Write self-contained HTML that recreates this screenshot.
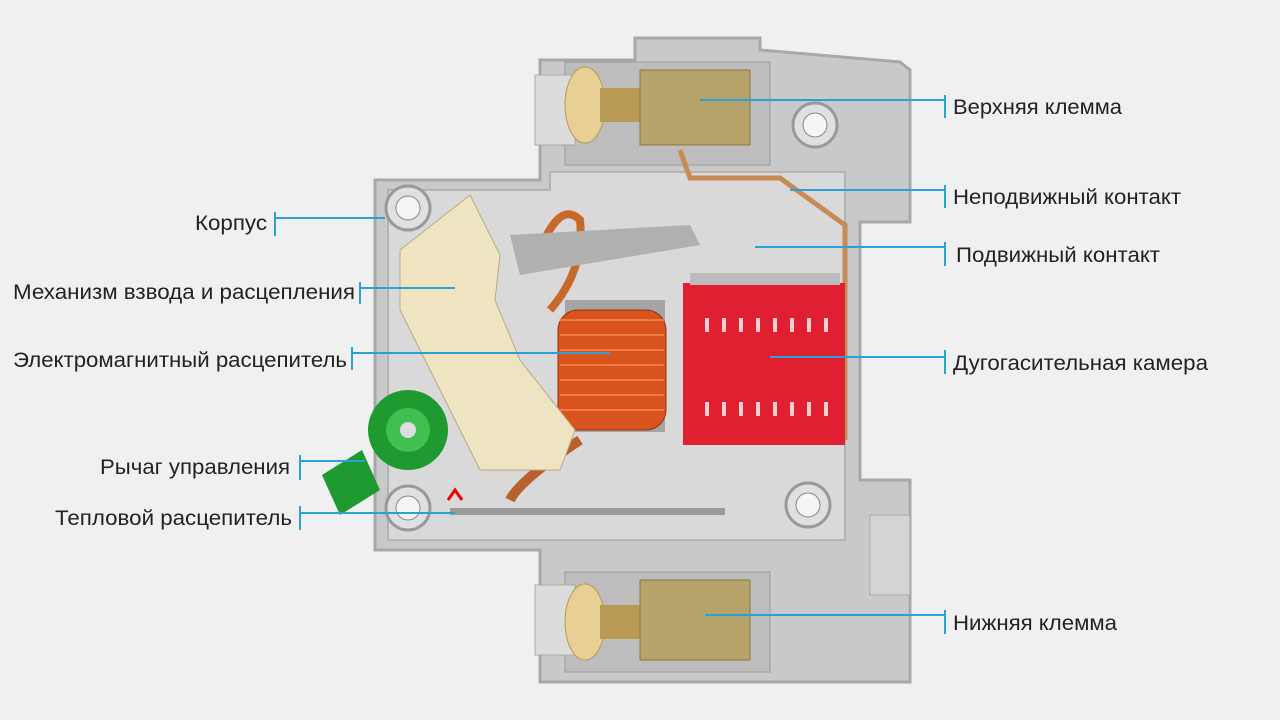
<!DOCTYPE html>
<html><head><meta charset="utf-8"><style>
html,body{margin:0;padding:0;background:#f0f0f0;}
svg{display:block}
text{font-family:"Liberation Sans",sans-serif;font-size:21px;fill:#222;}
</style></head><body>
<svg width="1280" height="720" viewBox="0 0 1280 720">
<rect width="1280" height="720" fill="#f0f0f0"/>
<path d="M540,60 L635,60 L635,38 L760,38 L760,50 L900,62 L910,70 L910,222 L860,222 L860,480 L910,480 L910,682 L760,682 L635,682 L540,682 L540,550 L375,550 L375,180 L540,180 Z" fill="#c9c9c9" stroke="#a8a8a8" stroke-width="3"/>
<path d="M388,190 L550,190 L550,172 L845,172 L845,540 L388,540 Z" fill="#d9d9d9" stroke="#b3b3b3" stroke-width="2"/>
<rect x="565" y="62" width="205" height="103" fill="#bdbdbd" stroke="#9a9a9a"/>
<rect x="565" y="572" width="205" height="100" fill="#bdbdbd" stroke="#9a9a9a"/>
<rect x="535" y="75" width="40" height="70" fill="#dcdcdc" stroke="#aaa"/>
<rect x="535" y="585" width="40" height="70" fill="#dcdcdc" stroke="#aaa"/>
<rect x="870" y="515" width="40" height="80" fill="#d4d4d4" stroke="#aaa"/>
<ellipse cx="585" cy="105" rx="20" ry="38" fill="#e8cf94" stroke="#b89a55"/>
<rect x="600" y="88" width="45" height="34" fill="#b89a55"/>
<rect x="640" y="70" width="110" height="75" fill="#b6a26b" stroke="#8a7840"/>
<ellipse cx="585" cy="622" rx="20" ry="38" fill="#e8cf94" stroke="#b89a55"/>
<rect x="600" y="605" width="45" height="34" fill="#b89a55"/>
<rect x="640" y="580" width="110" height="80" fill="#b6a26b" stroke="#8a7840"/>
<circle cx="815" cy="125" r="22" fill="#e0e0e0" stroke="#999" stroke-width="3"/><circle cx="815" cy="125" r="12" fill="#f5f5f5" stroke="#888"/>
<circle cx="808" cy="505" r="22" fill="#e0e0e0" stroke="#999" stroke-width="3"/><circle cx="808" cy="505" r="12" fill="#f5f5f5" stroke="#888"/>
<circle cx="408" cy="208" r="22" fill="#e0e0e0" stroke="#999" stroke-width="3"/><circle cx="408" cy="208" r="12" fill="#f5f5f5" stroke="#888"/>
<circle cx="408" cy="508" r="22" fill="#e0e0e0" stroke="#999" stroke-width="3"/><circle cx="408" cy="508" r="12" fill="#f5f5f5" stroke="#888"/>
<path d="M680,150 L690,178 L780,178 L845,225 L845,440" fill="none" stroke="#c98a55" stroke-width="5"/>
<rect x="683" y="283" width="162" height="162" fill="#e02030"/>
<rect x="690" y="273" width="150" height="12" fill="#bbb"/>
<g fill="#f6d0d0">
<rect x="705" y="318" width="4" height="14"/><rect x="722" y="318" width="4" height="14"/><rect x="739" y="318" width="4" height="14"/><rect x="756" y="318" width="4" height="14"/><rect x="773" y="318" width="4" height="14"/><rect x="790" y="318" width="4" height="14"/><rect x="807" y="318" width="4" height="14"/><rect x="824" y="318" width="4" height="14"/>
<rect x="705" y="402" width="4" height="14"/><rect x="722" y="402" width="4" height="14"/><rect x="739" y="402" width="4" height="14"/><rect x="756" y="402" width="4" height="14"/><rect x="773" y="402" width="4" height="14"/><rect x="790" y="402" width="4" height="14"/><rect x="807" y="402" width="4" height="14"/><rect x="824" y="402" width="4" height="14"/>
</g>
<rect x="565" y="300" width="100" height="132" fill="#a5a5a5"/>
<rect x="558" y="310" width="108" height="120" rx="20" fill="#d9531e" stroke="#9a3010"/>
<g stroke="#f07a40" stroke-width="2">
<line x1="560" y1="320" x2="664" y2="320"/><line x1="560" y1="335" x2="664" y2="335"/><line x1="560" y1="350" x2="664" y2="350"/><line x1="560" y1="365" x2="664" y2="365"/><line x1="560" y1="380" x2="664" y2="380"/><line x1="560" y1="395" x2="664" y2="395"/><line x1="560" y1="410" x2="664" y2="410"/></g>
<path d="M540,250 Q560,200 580,220 Q585,270 550,310" fill="none" stroke="#c8692c" stroke-width="8"/>
<path d="M510,235 L690,225 L700,245 L520,275 Z" fill="#b0b0b0"/>
<path d="M580,440 Q520,480 510,500" fill="none" stroke="#b86030" stroke-width="10"/>
<path d="M400,250 L470,195 L500,255 L495,300 L520,360 L575,430 L560,470 L480,470 L440,390 L400,310 Z" fill="#efe4c2" stroke="#b8aa80"/>
<rect x="450" y="508" width="275" height="7" fill="#9a9a9a"/>
<path d="M448,500 L455,490 L462,500" fill="none" stroke="#e00" stroke-width="3"/>
<circle cx="408" cy="430" r="40" fill="#1e9a30"/>
<circle cx="408" cy="430" r="22" fill="#3fc050"/>
<circle cx="408" cy="430" r="8" fill="#ddd"/>
<path d="M322,475 L362,450 L380,490 L340,515 Z" fill="#1e9a30"/>
<g stroke="#2aa2d6" stroke-width="2" fill="none">
<path d="M700,100 H945 M945,95 V118"/>
<path d="M790,190 H945 M945,185 V208"/>
<path d="M755,247 H945 M945,242 V266"/>
<path d="M770,357 H945 M945,350 V374"/>
<path d="M705,615 H945 M945,610 V634"/>
<path d="M275,218 H385 M275,212 V236"/>
<path d="M360,288 H455 M360,282 V304"/>
<path d="M352,353 H610 M352,347 V370"/>
<path d="M300,461 H365 M300,455 V480"/>
<path d="M300,513 H455 M300,506 V530"/>
</g>
<text x="953" y="114" textLength="169" lengthAdjust="spacingAndGlyphs">Верхняя клемма</text>
<text x="953" y="204" textLength="228" lengthAdjust="spacingAndGlyphs">Неподвижный контакт</text>
<text x="956" y="262" textLength="204" lengthAdjust="spacingAndGlyphs">Подвижный контакт</text>
<text x="953" y="370" textLength="255" lengthAdjust="spacingAndGlyphs">Дугогасительная камера</text>
<text x="953" y="630" textLength="164" lengthAdjust="spacingAndGlyphs">Нижняя клемма</text>
<text x="195" y="230" textLength="72" lengthAdjust="spacingAndGlyphs">Корпус</text>
<text x="13" y="299" textLength="342" lengthAdjust="spacingAndGlyphs">Механизм взвода и расцепления</text>
<text x="13" y="367" textLength="334" lengthAdjust="spacingAndGlyphs">Электромагнитный расцепитель</text>
<text x="100" y="474" textLength="190" lengthAdjust="spacingAndGlyphs">Рычаг управления</text>
<text x="55" y="525" textLength="237" lengthAdjust="spacingAndGlyphs">Тепловой расцепитель</text>
</svg>
</body></html>
